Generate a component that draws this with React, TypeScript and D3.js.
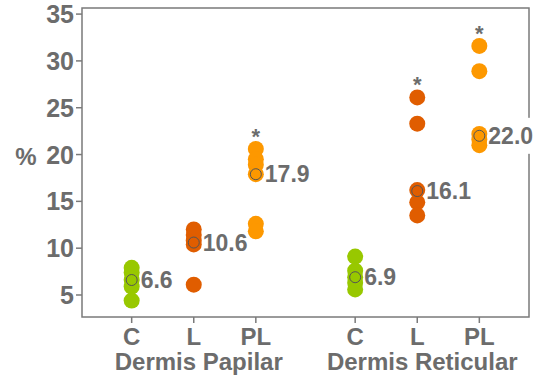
import React from 'react';
import * as d3 from 'd3';

const groups = ['Dermis Papilar', 'Dermis Reticular'];
const treatments = ['C', 'L', 'PL'];
const colors = ['#98c800', '#e05d00', '#fd9800'];

// points per group, per treatment
const papilarC = [7.9, 7.4, 6.6, 5.9, 4.4];
const papilarL = [12.0, 11.4, 10.8, 10.4, 6.1];
const papilarPL = [20.6, 19.5, 18.9, 17.9, 12.6, 11.8];
const reticularC = [9.1, 7.6, 6.9, 6.3, 5.6];
const reticularL = [26.1, 23.3, 16.2, 14.9, 13.5];
const reticularPL = [31.6, 28.9, 22.2, 21.6, 21.0];

const meansPapilar = [6.6, 10.6, 17.9];
const meansReticular = [6.9, 16.1, 22.0];
const starsPapilar = [false, false, true];
const starsReticular = [false, true, true];

const yTicks = [5, 10, 15, 20, 25, 30, 35];

const W = 542, H = 376;
const left = 82, right = 529, top = 8, bottom = 317;
const grey = '#6c6c6c';
const font = 'Liberation Sans, Arial, sans-serif';

export default function App() {
  const y = d3.scaleLinear().domain([2.65, 35.65]).range([bottom, top]);
  const gx = d3.scaleBand().domain(groups).range([left, right]).padding(0);
  const tx = d3.scalePoint().domain(treatments).range([0, gx.bandwidth()]).padding(0.8);

  const sets = [
    { group: groups[0], values: [papilarC, papilarL, papilarPL], means: meansPapilar, stars: starsPapilar },
    { group: groups[1], values: [reticularC, reticularL, reticularPL], means: meansReticular, stars: starsReticular },
  ];

  const cells = sets.flatMap(s =>
    treatments.map((t, i) => ({
      key: s.group + t,
      t,
      x: (gx(s.group) as number) + (tx(t) as number),
      values: s.values[i],
      mean: s.means[i],
      star: s.stars[i],
      color: colors[i],
    }))
  );

  return (
    <svg width={W} height={H} style={{ position: 'absolute', left: 0, top: 0, background: '#fff' }}>
      <rect x={left} y={top} width={right - left} height={bottom - top} fill="none" stroke="#7a7a7a" strokeWidth={1.5} />

      {yTicks.map(v => (
        <g key={v}>
          <line x1={left - 6} x2={left} y1={y(v)} y2={y(v)} stroke="#7a7a7a" strokeWidth={1.5} />
          <text x={74} y={y(v)} dy="0.36em" textAnchor="end" fontFamily={font} fontWeight="bold" fontSize={25} fill={grey}>{v}</text>
        </g>
      ))}
      <text x={26} y={y(20)} dy="0.45em" textAnchor="middle" fontFamily={font} fontWeight="bold" fontSize={24} fill={grey}>%</text>

      {cells.map(c => (
        <g key={c.key + 'x'}>
          <line x1={c.x} x2={c.x} y1={bottom} y2={bottom + 6} stroke="#7a7a7a" strokeWidth={1.5} />
          <text x={c.x} y={345} textAnchor="middle" fontFamily={font} fontWeight="bold" fontSize={24} fill={grey}>{c.t}</text>
        </g>
      ))}
      {groups.map(g => (
        <text key={g} x={(gx(g) as number) + gx.bandwidth() / 2 + 5} y={370} textAnchor="middle" fontFamily={font} fontWeight="bold" fontSize={24} fill={grey}>{g}</text>
      ))}

      {cells.map(c => (
        <rect key={c.key + 'bg'} x={c.x + 8} y={y(c.mean) - 18} width={c.mean.toFixed(1).length * 12.8 + 4} height={36} fill="#fff" />
      ))}

      {cells.map(c => (
        <g key={c.key}>
          {c.values.map((v, j) => (
            <circle key={j} cx={c.x} cy={y(v)} r={8} fill={c.color} />
          ))}
          <circle cx={c.x} cy={y(c.mean)} r={5.5} fill="none" stroke="#555" strokeWidth={1} />
          <text x={c.x + 9} y={y(c.mean)} dy="0.36em" fontFamily={font} fontWeight="bold" fontSize={23} fill={grey}>{c.mean.toFixed(1)}</text>
          {c.star && (
            <text x={c.x} y={y(d3.max(c.values) as number) - 5} textAnchor="middle" fontFamily={font} fontWeight="bold" fontSize={22} fill={grey}>*</text>
          )}
        </g>
      ))}
    </svg>
  );
}
